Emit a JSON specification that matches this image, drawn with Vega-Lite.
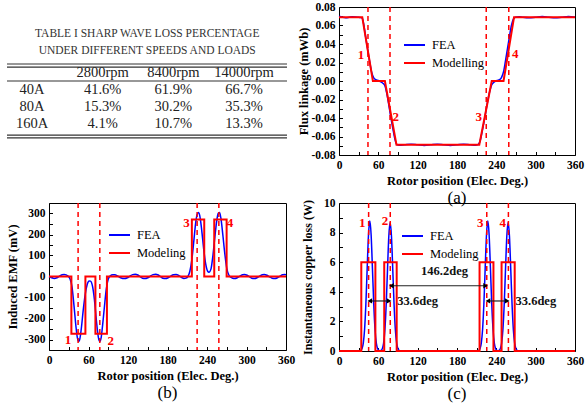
{
  "$schema": "https://vega.github.io/schema/vega-lite/v6.json",
  "padding": {"left": 5, "top": 0, "right": 0, "bottom": 2},
  "background": "white",
  "config": {
    "font": "Liberation Serif",
    "view": {"stroke": "black", "strokeWidth": 1},
    "axis": {"grid": false, "domain": false, "labelFont": "Liberation Serif", "labelFontWeight": "bold", "labelFontSize": 11.5, "labelColor": "black", "titleFont": "Liberation Serif", "titleFontWeight": "bold", "titleFontSize": 12.5, "titleColor": "black", "tickColor": "black", "tickSize": -3.5, "tickCount": 100, "labelPadding": 7.5, "labelFlush": false, "labelOverlap": false},
    "legend": {"labelFont": "Liberation Serif", "labelFontSize": 12.5, "labelColor": "black", "symbolType": "stroke", "symbolStrokeWidth": 2, "symbolSize": 441, "rowPadding": -6, "labelOffset": 6},
    "title": {"font": "Liberation Serif", "fontSize": 17, "fontWeight": "normal", "color": "black", "orient": "bottom", "offset": 3},
    "text": {"font": "Liberation Serif"}
  },
  "datasets": {
    "tableText": [
      {"c": 1, "r": 0, "t": "2800rpm"}, {"c": 2, "r": 0, "t": "8400rpm"}, {"c": 3, "r": 0, "t": "14000rpm"},
      {"c": 0, "r": 1, "t": "40A"}, {"c": 1, "r": 1, "t": "41.6%"}, {"c": 2, "r": 1, "t": "61.9%"}, {"c": 3, "r": 1, "t": "66.7%"},
      {"c": 0, "r": 2, "t": "80A"}, {"c": 1, "r": 2, "t": "15.3%"}, {"c": 2, "r": 2, "t": "30.2%"}, {"c": 3, "r": 2, "t": "35.3%"},
      {"c": 0, "r": 3, "t": "160A"}, {"c": 1, "r": 3, "t": "4.1%"}, {"c": 2, "r": 3, "t": "10.7%"}, {"c": 3, "r": 3, "t": "13.3%"}
    ],
    "tableTitle": [
      {"c": 1.63, "r": -2.29, "t": "TABLE I SHARP WAVE LOSS PERCENTAGE"},
      {"c": 1.63, "r": -1.29, "t": "UNDER DIFFERENT SPEEDS AND LOADS"}
    ],
    "tableRules": [{"c": -0.354, "c2": 3.608, "r": -0.53}, {"c": -0.354, "c2": 3.608, "r": -0.35}, {"c": -0.354, "c2": 3.608, "r": 0.47}, {"c": -0.354, "c2": 3.608, "r": 3.65}, {"c": -0.354, "c2": 3.608, "r": 3.82}],
    "fluxFEA": [
      {"x": 0, "y": 0.07}, {"x": 5, "y": 0.069}, {"x": 10, "y": 0.0684}, {"x": 15, "y": 0.0688}, {"x": 20, "y": 0.0695}, {"x": 25, "y": 0.0693}, {"x": 30, "y": 0.0688}, {"x": 34, "y": 0.0685}, {"x": 36, "y": 0.067}, {"x": 38, "y": 0.06}, {"x": 41, "y": 0.046}, {"x": 44, "y": 0.033}, {"x": 47, "y": 0.02}, {"x": 50, "y": 0.009}, {"x": 53, "y": 0.0035}, {"x": 56, "y": 0.0015}, {"x": 60, "y": 0.0005}, {"x": 64, "y": -0.001}, {"x": 67, "y": -0.0025}, {"x": 70, "y": -0.005}, {"x": 73, "y": -0.014}, {"x": 76, "y": -0.026}, {"x": 79, "y": -0.039}, {"x": 82, "y": -0.051}, {"x": 85, "y": -0.062}, {"x": 88, "y": -0.0685}, {"x": 92, "y": -0.0695}, {"x": 100, "y": -0.069}, {"x": 110, "y": -0.0684}, {"x": 120, "y": -0.069}, {"x": 130, "y": -0.0696}, {"x": 140, "y": -0.069}, {"x": 150, "y": -0.0684}, {"x": 160, "y": -0.069}, {"x": 170, "y": -0.0696}, {"x": 180, "y": -0.069}, {"x": 190, "y": -0.0684}, {"x": 200, "y": -0.069}, {"x": 208, "y": -0.0695}, {"x": 212, "y": -0.0688}, {"x": 215, "y": -0.0655}, {"x": 218, "y": -0.056}, {"x": 221, "y": -0.045}, {"x": 224, "y": -0.033}, {"x": 227, "y": -0.021}, {"x": 230, "y": -0.011}, {"x": 233, "y": -0.004}, {"x": 237, "y": -0.001}, {"x": 241, "y": 0.0005}, {"x": 245, "y": 0.0015}, {"x": 248, "y": 0.004}, {"x": 251, "y": 0.01}, {"x": 254, "y": 0.022}, {"x": 257, "y": 0.035}, {"x": 260, "y": 0.048}, {"x": 263, "y": 0.06}, {"x": 266, "y": 0.067}, {"x": 269, "y": 0.069}, {"x": 275, "y": 0.0695}, {"x": 280, "y": 0.069}, {"x": 290, "y": 0.0684}, {"x": 300, "y": 0.069}, {"x": 310, "y": 0.0696}, {"x": 320, "y": 0.069}, {"x": 330, "y": 0.0684}, {"x": 340, "y": 0.069}, {"x": 350, "y": 0.0696}, {"x": 360, "y": 0.069}
    ],
    "fluxModel": [
      {"i": 0, "x": 0, "y": 0.069}, {"i": 1, "x": 35.5, "y": 0.069}, {"i": 2, "x": 51.7, "y": 0}, {"i": 3, "x": 70, "y": 0}, {"i": 4, "x": 87.7, "y": -0.069}, {"i": 5, "x": 214, "y": -0.069}, {"i": 6, "x": 233, "y": 0}, {"i": 7, "x": 251, "y": 0}, {"i": 8, "x": 267, "y": 0.069}, {"i": 9, "x": 360, "y": 0.069}
    ],
    "dashA": [{"x": 44.2}, {"x": 77.8}, {"x": 224.6}, {"x": 259}],
    "numA": [{"x": 33.4, "y": 0.028, "t": "1"}, {"x": 86.6, "y": -0.039, "t": "2"}, {"x": 213, "y": -0.039, "t": "3"}, {"x": 269, "y": 0.029, "t": "4"}],
    "emfFEA": [
      {"x": 0, "y": 0}, {"x": 4, "y": -6}, {"x": 8, "y": -9}, {"x": 12, "y": -6}, {"x": 16, "y": 2}, {"x": 20, "y": 8}, {"x": 23, "y": 10}, {"x": 26, "y": 8}, {"x": 29, "y": 2}, {"x": 32, "y": -12}, {"x": 35, "y": -50}, {"x": 38, "y": -140}, {"x": 41, "y": -240}, {"x": 43, "y": -290}, {"x": 45, "y": -310}, {"x": 47, "y": -295}, {"x": 49, "y": -250}, {"x": 52, "y": -160}, {"x": 55, "y": -85}, {"x": 58, "y": -38}, {"x": 61, "y": -21}, {"x": 63, "y": -22}, {"x": 66, "y": -45}, {"x": 69, "y": -110}, {"x": 72, "y": -210}, {"x": 75, "y": -290}, {"x": 77, "y": -310}, {"x": 79, "y": -295}, {"x": 81, "y": -245}, {"x": 84, "y": -150}, {"x": 87, "y": -60}, {"x": 90, "y": -12}, {"x": 93, "y": 3}, {"x": 97, "y": 8}, {"x": 100, "y": 8}, {"x": 104, "y": 3}, {"x": 108, "y": -5}, {"x": 112, "y": -9}, {"x": 115, "y": -10}, {"x": 119, "y": -6}, {"x": 123, "y": 2}, {"x": 127, "y": 9}, {"x": 131, "y": 11}, {"x": 135, "y": 7}, {"x": 139, "y": -2}, {"x": 142, "y": -8}, {"x": 146, "y": -10}, {"x": 150, "y": -6}, {"x": 154, "y": 2}, {"x": 158, "y": 9}, {"x": 162, "y": 11}, {"x": 166, "y": 7}, {"x": 170, "y": -2}, {"x": 173, "y": -8}, {"x": 177, "y": -10}, {"x": 181, "y": -6}, {"x": 185, "y": 2}, {"x": 189, "y": 8}, {"x": 193, "y": 9}, {"x": 197, "y": 5}, {"x": 201, "y": -4}, {"x": 205, "y": -10}, {"x": 208, "y": -8}, {"x": 211, "y": 0}, {"x": 214, "y": 25}, {"x": 217, "y": 80}, {"x": 220, "y": 170}, {"x": 223, "y": 260}, {"x": 225, "y": 295}, {"x": 227, "y": 305}, {"x": 229, "y": 290}, {"x": 232, "y": 220}, {"x": 235, "y": 130}, {"x": 238, "y": 60}, {"x": 241, "y": 25}, {"x": 243, "y": 20}, {"x": 246, "y": 35}, {"x": 249, "y": 100}, {"x": 252, "y": 190}, {"x": 255, "y": 270}, {"x": 257, "y": 300}, {"x": 259, "y": 305}, {"x": 261, "y": 280}, {"x": 264, "y": 200}, {"x": 267, "y": 110}, {"x": 270, "y": 40}, {"x": 273, "y": 8}, {"x": 276, "y": -3}, {"x": 279, "y": -8}, {"x": 282, "y": -10}, {"x": 286, "y": -6}, {"x": 290, "y": 2}, {"x": 294, "y": 8}, {"x": 297, "y": 10}, {"x": 301, "y": 6}, {"x": 305, "y": -2}, {"x": 308, "y": -8}, {"x": 312, "y": -10}, {"x": 316, "y": -6}, {"x": 320, "y": 2}, {"x": 324, "y": 8}, {"x": 327, "y": 10}, {"x": 331, "y": 6}, {"x": 335, "y": -2}, {"x": 339, "y": -8}, {"x": 343, "y": -10}, {"x": 347, "y": -6}, {"x": 351, "y": 2}, {"x": 355, "y": 8}, {"x": 358, "y": 9}, {"x": 360, "y": 8}
    ],
    "emfModel": [
      {"i": 0, "x": 0, "y": 0}, {"i": 1, "x": 34, "y": 0}, {"i": 2, "x": 34, "y": -273}, {"i": 3, "x": 55.3, "y": -273}, {"i": 4, "x": 55.3, "y": 0}, {"i": 5, "x": 70.5, "y": 0}, {"i": 6, "x": 70.5, "y": -273}, {"i": 7, "x": 88, "y": -273}, {"i": 8, "x": 88, "y": 0}, {"i": 9, "x": 217, "y": 0}, {"i": 10, "x": 217, "y": 272}, {"i": 11, "x": 235.8, "y": 272}, {"i": 12, "x": 235.8, "y": 0}, {"i": 13, "x": 251, "y": 0}, {"i": 14, "x": 251, "y": 272}, {"i": 15, "x": 269.8, "y": 272}, {"i": 16, "x": 269.8, "y": 0}, {"i": 17, "x": 360, "y": 0}
    ],
    "dashB": [{"x": 44.2}, {"x": 77.2}, {"x": 225}, {"x": 258}],
    "numB": [{"x": 28.9, "y": -300, "t": "1"}, {"x": 93.8, "y": -305, "t": "2"}, {"x": 209, "y": 256, "t": "3"}, {"x": 274.8, "y": 256, "t": "4"}],
    "lossFEA": [
      {"x": 0, "y": 0}, {"x": 31, "y": 0}, {"x": 33, "y": 0.03}, {"x": 35, "y": 0.15}, {"x": 37, "y": 0.52}, {"x": 39, "y": 1.44}, {"x": 41, "y": 3.17}, {"x": 43, "y": 5.6}, {"x": 45, "y": 7.86}, {"x": 47, "y": 8.8}, {"x": 49, "y": 7.86}, {"x": 51, "y": 5.6}, {"x": 53, "y": 3.17}, {"x": 55, "y": 1.44}, {"x": 57, "y": 0.52}, {"x": 59, "y": 0.15}, {"x": 61, "y": 0.03}, {"x": 62.5, "y": 0.02}, {"x": 64, "y": 0.03}, {"x": 66, "y": 0.15}, {"x": 68, "y": 0.51}, {"x": 70, "y": 1.42}, {"x": 72, "y": 3.14}, {"x": 74, "y": 5.53}, {"x": 76, "y": 7.77}, {"x": 78, "y": 8.7}, {"x": 80, "y": 7.77}, {"x": 82, "y": 5.53}, {"x": 84, "y": 3.14}, {"x": 86, "y": 1.42}, {"x": 88, "y": 0.51}, {"x": 90, "y": 0.15}, {"x": 92, "y": 0.03}, {"x": 94, "y": 0}, {"x": 211, "y": 0}, {"x": 213, "y": 0.03}, {"x": 215, "y": 0.15}, {"x": 217, "y": 0.52}, {"x": 219, "y": 1.44}, {"x": 221, "y": 3.17}, {"x": 223, "y": 5.6}, {"x": 225, "y": 7.86}, {"x": 227, "y": 8.8}, {"x": 229, "y": 7.86}, {"x": 231, "y": 5.6}, {"x": 233, "y": 3.17}, {"x": 235, "y": 1.44}, {"x": 237, "y": 0.52}, {"x": 239, "y": 0.15}, {"x": 241, "y": 0.03}, {"x": 242.5, "y": 0.02}, {"x": 244, "y": 0.03}, {"x": 246, "y": 0.15}, {"x": 248, "y": 0.51}, {"x": 250, "y": 1.42}, {"x": 252, "y": 3.14}, {"x": 254, "y": 5.53}, {"x": 256, "y": 7.77}, {"x": 258, "y": 8.7}, {"x": 260, "y": 7.77}, {"x": 262, "y": 5.53}, {"x": 264, "y": 3.14}, {"x": 266, "y": 1.42}, {"x": 268, "y": 0.51}, {"x": 270, "y": 0.15}, {"x": 272, "y": 0.03}, {"x": 274, "y": 0}, {"x": 360, "y": 0}
    ],
    "lossModel": [
      {"i": 0, "x": 0, "y": 0}, {"i": 1, "x": 34, "y": 0}, {"i": 2, "x": 34, "y": 6}, {"i": 3, "x": 55.5, "y": 6}, {"i": 4, "x": 55.5, "y": 0}, {"i": 5, "x": 69, "y": 0}, {"i": 6, "x": 69, "y": 6}, {"i": 7, "x": 88, "y": 6}, {"i": 8, "x": 88, "y": 0}, {"i": 9, "x": 214.4, "y": 0}, {"i": 10, "x": 214.4, "y": 6}, {"i": 11, "x": 235.6, "y": 6}, {"i": 12, "x": 235.6, "y": 0}, {"i": 13, "x": 248, "y": 0}, {"i": 14, "x": 248, "y": 6}, {"i": 15, "x": 268, "y": 6}, {"i": 16, "x": 268, "y": 0}, {"i": 17, "x": 360, "y": 0}
    ],
    "dashC": [{"x": 45.2}, {"x": 78.2}, {"x": 225.4}, {"x": 258.4}],
    "numC": [{"x": 35.3, "y": 8.63, "t": "1"}, {"x": 70, "y": 8.78, "t": "2"}, {"x": 215.3, "y": 8.63, "t": "3"}, {"x": 249.6, "y": 8.63, "t": "4"}],
    "arrows": [{"x": 45.2, "x2": 78.2, "y": 3.38}, {"x": 78.2, "x2": 225.4, "y": 4.41}, {"x": 225.4, "x2": 258.4, "y": 3.38}],
    "heads": [
      {"x": 47.0, "y": 3.38, "sh": "triangle-left"}, {"x": 76.4, "y": 3.38, "sh": "triangle-right"},
      {"x": 80.0, "y": 4.41, "sh": "triangle-left"}, {"x": 223.6, "y": 4.41, "sh": "triangle-right"},
      {"x": 227.2, "y": 3.38, "sh": "triangle-left"}, {"x": 256.6, "y": 3.38, "sh": "triangle-right"}
    ],
    "notes": [{"x": 89, "y": 3.38, "t": "33.6deg"}, {"x": 269.3, "y": 3.38, "t": "33.6deg"}],
    "notesMid": [{"x": 161, "y": 5.4, "t": "146.2deg"}]
  },
  "resolve": {"scale": {"color": "independent"}, "legend": {"color": "independent"}},
  "spacing": 0,
  "hconcat": [
    {
      "bounds": "flush",
      "spacing": 61,
      "resolve": {"scale": {"color": "independent"}, "legend": {"color": "independent"}},
      "vconcat": [
        {
          "width": 238, "height": 135,
          "view": {"stroke": null},
          "layer": [
            {"data": {"name": "tableRules"}, "mark": {"type": "rule", "color": "#333333", "strokeWidth": 1.2},
             "encoding": {"x": {"field": "c", "type": "quantitative", "scale": {"domain": [0.2406, 3.608], "nice": false, "zero": false}, "axis": null}, "x2": {"field": "c2"}, "y": {"field": "r", "type": "quantitative", "scale": {"domain": [-3.882, 4.059], "reverse": true, "nice": false, "zero": false}, "axis": null}}},
            {"data": {"name": "tableTitle"}, "mark": {"type": "text", "font": "Liberation Serif", "fontSize": 11.5, "color": "#333333", "align": "center", "baseline": "middle"},
             "encoding": {"x": {"field": "c", "type": "quantitative", "axis": null}, "y": {"field": "r", "type": "quantitative", "axis": null}, "text": {"field": "t"}}},
            {"data": {"name": "tableText"}, "mark": {"type": "text", "font": "Liberation Serif", "fontSize": 14.5, "color": "#222222", "align": "center", "baseline": "middle"},
             "encoding": {"x": {"field": "c", "type": "quantitative", "axis": null}, "y": {"field": "r", "type": "quantitative", "axis": null}, "text": {"field": "t"}}}
          ]
        },
        {
          "width": 237, "height": 147,
          "title": {"text": "(b)"},
          "layer": [
            {"data": {"name": "emfFEA"}, "mark": {"type": "line", "strokeWidth": 1.5, "interpolate": "monotone"},
             "encoding": {
               "x": {"field": "x", "type": "quantitative", "scale": {"domain": [0, 360], "nice": false}, "axis": {"values": [0, 30, 60, 90, 120, 150, 180, 210, 240, 270, 300, 330, 360], "labelExpr": "datum.value % 60 == 0 ? format(datum.value, 'd') : ''", "title": "Rotor position (Elec. Deg.)"}},
               "y": {"field": "y", "type": "quantitative", "scale": {"domain": [-350, 350], "nice": false}, "axis": {"values": [-350, -300, -250, -200, -150, -100, -50, 0, 50, 100, 150, 200, 250, 300, 350], "labelExpr": "datum.value % 100 == 0 ? replace(format(datum.value, 'd'), '\u2212', '-') : ''", "title": "Induced EMF (mV)", "minExtent": 26, "maxExtent": 26, "titlePadding": 4}},
               "color": {"datum": "FEA", "type": "nominal", "scale": {"domain": ["FEA", "Modeling"], "range": ["#0000ff", "#ff0000"]}, "legend": {"title": null, "orient": "none", "legendX": 59, "legendY": 20.5}}
             }},
            {"data": {"name": "emfModel"}, "mark": {"type": "line", "strokeWidth": 2},
             "encoding": {"x": {"field": "x", "type": "quantitative"}, "y": {"field": "y", "type": "quantitative"}, "order": {"field": "i", "type": "quantitative"}, "color": {"datum": "Modeling", "type": "nominal"}}},
            {"data": {"name": "dashB"}, "mark": {"type": "rule", "color": "#ff0000", "strokeDash": [5, 4], "strokeWidth": 1.5},
             "encoding": {"x": {"field": "x", "type": "quantitative"}}},
            {"data": {"name": "numB"}, "mark": {"type": "text", "font": "Liberation Serif", "color": "#ff0000", "fontWeight": "bold", "fontSize": 13},
             "encoding": {"x": {"field": "x", "type": "quantitative"}, "y": {"field": "y", "type": "quantitative"}, "text": {"field": "t"}}}
          ]
        }
      ]
    },
    {
      "bounds": "flush",
      "spacing": 48,
      "resolve": {"scale": {"color": "independent"}, "legend": {"color": "independent"}},
      "vconcat": [
        {
          "width": 236, "height": 148,
          "title": {"text": "(a)"},
          "layer": [
            {"data": {"name": "fluxFEA"}, "mark": {"type": "line", "strokeWidth": 1.5, "interpolate": "monotone"},
             "encoding": {
               "x": {"field": "x", "type": "quantitative", "scale": {"domain": [0, 360], "nice": false}, "axis": {"values": [0, 30, 60, 90, 120, 150, 180, 210, 240, 270, 300, 330, 360], "labelExpr": "datum.value % 60 == 0 ? format(datum.value, 'd') : ''", "title": "Rotor position (Elec. Deg.)"}},
               "y": {"field": "y", "type": "quantitative", "scale": {"domain": [-0.08, 0.08], "nice": false}, "axis": {"values": [-0.08, -0.07, -0.06, -0.05, -0.04, -0.03, -0.02, -0.01, 0, 0.01, 0.02, 0.03, 0.04, 0.05, 0.06, 0.07, 0.08], "labelExpr": "abs(round(datum.value * 100)) % 2 == 0 ? replace(format(datum.value, '.2f'), '\u2212', '-') : ''", "title": "Flux linkage (mWb)", "minExtent": 26, "maxExtent": 26, "titlePadding": 3}},
               "color": {"datum": "FEA", "type": "nominal", "scale": {"domain": ["FEA", "Modelling"], "range": ["#0000ff", "#ff0000"]}, "legend": {"title": null, "orient": "none", "legendX": 64, "legendY": 26.5}}
             }},
            {"data": {"name": "fluxModel"}, "mark": {"type": "line", "strokeWidth": 2},
             "encoding": {"x": {"field": "x", "type": "quantitative"}, "y": {"field": "y", "type": "quantitative"}, "order": {"field": "i", "type": "quantitative"}, "color": {"datum": "Modelling", "type": "nominal"}}},
            {"data": {"name": "dashA"}, "mark": {"type": "rule", "color": "#ff0000", "strokeDash": [5, 4], "strokeWidth": 1.5},
             "encoding": {"x": {"field": "x", "type": "quantitative"}}},
            {"data": {"name": "numA"}, "mark": {"type": "text", "font": "Liberation Serif", "color": "#ff0000", "fontWeight": "bold", "fontSize": 13},
             "encoding": {"x": {"field": "x", "type": "quantitative"}, "y": {"field": "y", "type": "quantitative"}, "text": {"field": "t"}}}
          ]
        },
        {
          "width": 236, "height": 148,
          "title": {"text": "(c)"},
          "layer": [
            {"data": {"name": "lossFEA"}, "mark": {"type": "line", "strokeWidth": 1.5, "interpolate": "monotone"},
             "encoding": {
               "x": {"field": "x", "type": "quantitative", "scale": {"domain": [0, 360], "nice": false}, "axis": {"values": [0, 30, 60, 90, 120, 150, 180, 210, 240, 270, 300, 330, 360], "labelExpr": "datum.value % 60 == 0 ? format(datum.value, 'd') : ''", "title": "Rotor position (Elec. Deg.)"}},
               "y": {"field": "y", "type": "quantitative", "scale": {"domain": [0, 10], "nice": false}, "axis": {"values": [0, 1, 2, 3, 4, 5, 6, 7, 8, 9, 10], "labelExpr": "datum.value % 2 == 0 ? format(datum.value, 'd') : ''", "title": "Instantaneous copper loss (W)", "titleFontSize": 12, "minExtent": 20, "maxExtent": 20, "titlePadding": 5}},
               "color": {"datum": "FEA", "type": "nominal", "scale": {"domain": ["FEA", "Modeling"], "range": ["#0000ff", "#ff0000"]}, "legend": {"title": null, "orient": "none", "legendX": 62, "legendY": 21.5}}
             }},
            {"data": {"name": "lossModel"}, "mark": {"type": "line", "strokeWidth": 2},
             "encoding": {"x": {"field": "x", "type": "quantitative"}, "y": {"field": "y", "type": "quantitative"}, "order": {"field": "i", "type": "quantitative"}, "color": {"datum": "Modeling", "type": "nominal"}}},
            {"data": {"name": "dashC"}, "mark": {"type": "rule", "color": "#ff0000", "strokeDash": [5, 4], "strokeWidth": 1.5},
             "encoding": {"x": {"field": "x", "type": "quantitative"}}},
            {"data": {"name": "numC"}, "mark": {"type": "text", "font": "Liberation Serif", "color": "#ff0000", "fontWeight": "bold", "fontSize": 13},
             "encoding": {"x": {"field": "x", "type": "quantitative"}, "y": {"field": "y", "type": "quantitative"}, "text": {"field": "t"}}},
            {"data": {"name": "arrows"}, "mark": {"type": "rule", "color": "#222222", "strokeWidth": 1.2},
             "encoding": {"x": {"field": "x", "type": "quantitative"}, "x2": {"field": "x2"}, "y": {"field": "y", "type": "quantitative"}}},
            {"data": {"name": "heads"}, "mark": {"type": "point", "filled": true, "color": "black", "size": 28, "opacity": 1},
             "encoding": {"x": {"field": "x", "type": "quantitative"}, "y": {"field": "y", "type": "quantitative"}, "shape": {"field": "sh", "type": "nominal", "scale": null}}},
            {"data": {"name": "notes"}, "mark": {"type": "text", "font": "Liberation Serif", "color": "#111111", "fontWeight": "bold", "fontSize": 12.5, "align": "left", "baseline": "middle"},
             "encoding": {"x": {"field": "x", "type": "quantitative"}, "y": {"field": "y", "type": "quantitative"}, "text": {"field": "t"}}},
            {"data": {"name": "notesMid"}, "mark": {"type": "text", "font": "Liberation Serif", "color": "#111111", "fontWeight": "bold", "fontSize": 12.5, "align": "center", "baseline": "middle"},
             "encoding": {"x": {"field": "x", "type": "quantitative"}, "y": {"field": "y", "type": "quantitative"}, "text": {"field": "t"}}}
          ]
        }
      ]
    }
  ]
}
